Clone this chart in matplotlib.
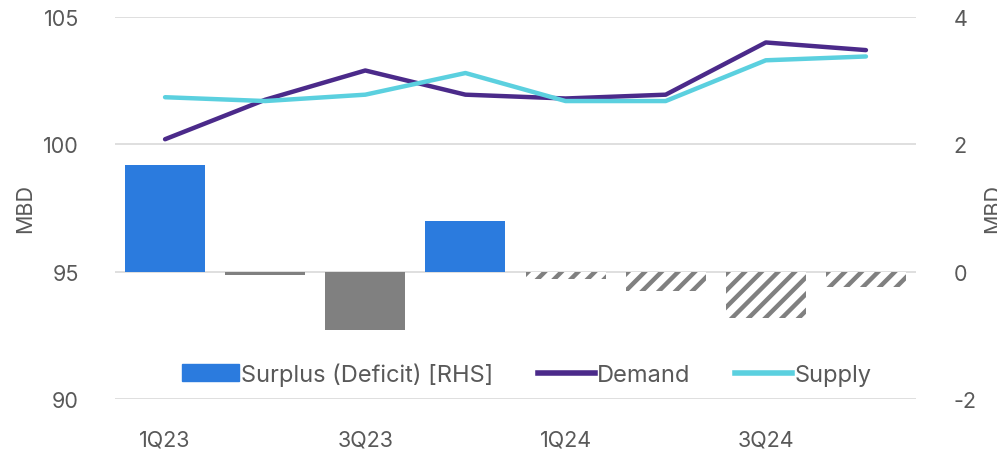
import matplotlib.pyplot as plt
from matplotlib.patches import Patch
from matplotlib.lines import Line2D

plt.rcParams['font.family'] = ['Inter', 'DejaVu Sans']
plt.rcParams['hatch.linewidth'] = 3.2
plt.rcParams['axes.unicode_minus'] = False

quarters = ['1Q23', '2Q23', '3Q23', '4Q23', '1Q24', '2Q24', '3Q24', '4Q24']
tick_labels = ['1Q23', '', '3Q23', '', '1Q24', '', '3Q24', '']
demand = [100.2, 101.75, 102.9, 101.95, 101.8, 101.95, 104.0, 103.7]
supply = [101.85, 101.7, 101.95, 102.8, 101.7, 101.7, 103.3, 103.45]
surplus = [1.68, -0.06, -0.91, 0.79, -0.11, -0.31, -0.72, -0.24]
forecast = [False, False, False, False, True, True, True, True]

blue = '#2b7bde'
grey = '#808080'
purple = '#4b2a8a'
cyan = '#5bd0df'
text_c = '#595959'

fig = plt.figure(figsize=(9.97, 4.52), dpi=100)
ax = fig.add_axes([115 / 997, 52 / 452, 801 / 997, 382 / 452])
ax2 = ax.twinx()

x = list(range(len(quarters)))

for i, v in enumerate(surplus):
    if forecast[i]:
        ax2.bar(i, v, width=0.8, facecolor='white', edgecolor=grey, hatch='//', linewidth=0)
    elif v > 0:
        ax2.bar(i, v, width=0.8, color=blue)
    else:
        ax2.bar(i, v, width=0.8, color=grey)

ax2.plot(x, demand, color=purple, lw=3.2, solid_capstyle='round', transform=ax.transData)
ax2.plot(x, supply, color=cyan, lw=3.2, solid_capstyle='round', transform=ax.transData)

ax.set_xlim(-0.5, 7.5)
ax.set_ylim(90, 105)
ax.set_yticks([90, 95, 100, 105])
ax2.set_ylim(-2, 4)
ax2.set_yticks([-2, 0, 2, 4])
ax.set_xticks(x)
ax.set_xticklabels(tick_labels)

ax.grid(axis='y', color='#d9d9d9', lw=1.2)
ax.set_axisbelow(True)
for a in (ax, ax2):
    for s in a.spines.values():
        s.set_visible(False)
    a.tick_params(length=0, colors=text_c, labelsize=15.5)
ax.tick_params(axis='y', pad=26)
ax2.tick_params(axis='y', pad=27)
ax.tick_params(axis='x', pad=22)

ax.set_ylabel('MBD', color=text_c, fontsize=15.5, labelpad=6)
ax2.set_ylabel('MBD', color=text_c, fontsize=15.5)
ax2.yaxis.set_label_coords((983 - 115) / 801, 0.5)

handles = [Patch(color=blue), Line2D([], [], color=purple, lw=4), Line2D([], [], color=cyan, lw=4)]
labels = ['Surplus (Deficit) [RHS]', 'Demand', 'Supply']
leg = ax2.legend(handles, labels, loc='center', bbox_to_anchor=(0.514, 0.065), ncol=3,
                 frameon=False, fontsize=17, handlelength=2.4, handletextpad=0.1,
                 columnspacing=1.9, labelcolor=text_c)

fig.savefig('out.png', dpi=100)
